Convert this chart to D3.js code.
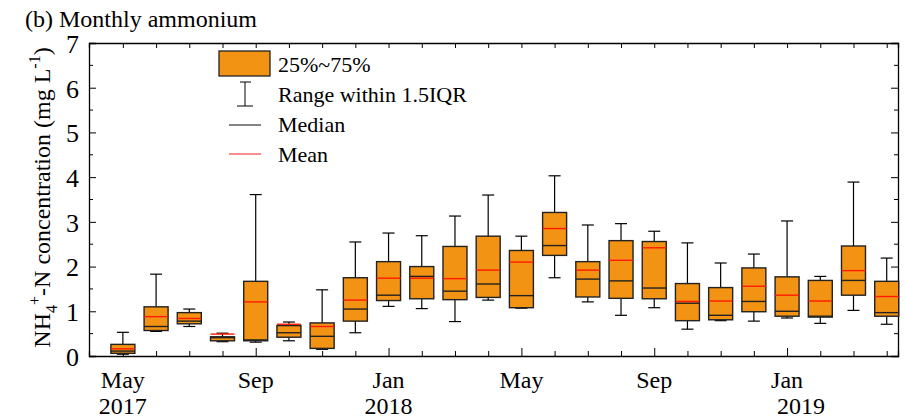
<!DOCTYPE html>
<html><head><meta charset="utf-8">
<script src="https://cdn.jsdelivr.net/npm/d3@7"></script>
<style>body{margin:0;background:#fff}text{font-family:"Liberation Serif","Times New Roman",serif;fill:#000}</style>
</head><body><svg id="c" width="905" height="419"></svg>
<script>
// monthly stats May 2017 .. Apr 2019
var months = ['May','Jun','Jul','Aug','Sep','Oct','Nov','Dec','Jan','Feb','Mar','Apr',
              'May','Jun','Jul','Aug','Sep','Oct','Nov','Dec','Jan','Feb','Mar','Apr'];
var whiskLo = [0.04,0.55,0.66,0.32,0.31,0.34,0.15,0.52,1.11,1.06,0.77,1.25,1.07,1.75,1.21,0.91,1.08,0.60,0.79,0.78,0.85,0.73,1.02,0.71];
var q1      = [0.06,0.57,0.72,0.34,0.34,0.42,0.17,0.78,1.24,1.28,1.26,1.31,1.08,2.25,1.32,1.29,1.28,0.79,0.81,0.99,0.89,0.87,1.36,0.89];
var median  = [0.11,0.66,0.78,0.41,0.36,0.52,0.44,1.05,1.36,1.78,1.45,1.61,1.35,2.47,1.72,1.68,1.52,1.18,0.91,1.22,1.00,0.89,1.69,0.97];
var mean    = [0.16,0.88,0.84,0.49,1.21,0.71,0.66,1.25,1.74,1.74,1.73,1.92,2.10,2.85,1.92,2.14,2.42,1.22,1.23,1.56,1.36,1.23,1.91,1.33];
var q3      = [0.26,1.10,0.97,0.43,1.67,0.68,0.74,1.75,2.11,2.00,2.45,2.68,2.36,3.21,2.11,2.58,2.56,1.62,1.53,1.97,1.77,1.69,2.46,1.67];
var whiskHi = [0.53,1.83,1.05,0.51,3.61,0.76,1.48,2.55,2.75,2.69,3.13,3.60,2.68,4.03,2.93,2.96,2.79,2.53,2.08,2.28,3.02,1.78,3.89,2.19];
var tickIdx = [0,4,8,12,16,20];
var years = {0:'2017',8:'2018',20:'2019'};

var svg = d3.select('#c');
var L = 89, R = 898, T = 43, B = 356;
var x = d3.scaleLinear().domain([-1.02, 23.34]).range([L, R]);
var y = d3.scaleLinear().domain([0, 7]).range([B, T]);
var bw = 24, cap = 12, fill = '#f39313';

// axes with inward ticks
var gl = svg.append('g').attr('transform','translate('+L+',0)')
  .call(d3.axisLeft(y).ticks(7).tickSize(-7).tickPadding(10));
var gr = svg.append('g').attr('transform','translate('+R+',0)')
  .call(d3.axisRight(y).ticks(7).tickSize(-7).tickFormat(''));
[0.5,1.5,2.5,3.5,4.5,5.5,6.5].forEach(function(v){
  svg.append('line').attr('x1',L).attr('x2',L+4).attr('y1',y(v)).attr('y2',y(v)).attr('stroke','#000');
  svg.append('line').attr('x1',R).attr('x2',R-4).attr('y1',y(v)).attr('y2',y(v)).attr('stroke','#000');
});
var gb = svg.append('g').attr('transform','translate(0,'+B+')')
  .call(d3.axisBottom(x).tickValues(d3.range(24)).tickSize(-5).tickFormat(''));
gb.selectAll('.tick line').filter(function(d){return tickIdx.indexOf(d)>=0;}).attr('y2',-8);
var gt = svg.append('g').attr('transform','translate(0,'+T+')')
  .call(d3.axisTop(x).tickValues(d3.range(24)).tickSize(-5).tickFormat(''));
[gl,gr,gb,gt].forEach(function(g){
  g.select('.domain').attr('stroke','#000').attr('stroke-width',1.3);
  g.selectAll('.tick line').attr('stroke','#000');
});
gl.selectAll('.tick text').attr('font-size',26).attr('dy','0.36em').style('font-family','"Liberation Serif",serif');

// x labels
tickIdx.forEach(function(i){
  svg.append('text').attr('x',x(i)).attr('y',388).attr('text-anchor','middle').attr('font-size',24).text(months[i]);
  if(years[i]) svg.append('text').attr('x',x(i)+(i==20?14:0)).attr('y',414).attr('text-anchor','middle').attr('font-size',24).text(years[i]);
});

// boxes
var g = svg.append('g');
months.forEach(function(m,i){
  var cx = x(i);
  g.append('line').attr('x1',cx).attr('x2',cx).attr('y1',y(whiskHi[i])).attr('y2',y(q3[i])).attr('stroke','#000').attr('stroke-width',1.2);
  g.append('line').attr('x1',cx).attr('x2',cx).attr('y1',y(whiskLo[i])).attr('y2',y(q1[i])).attr('stroke','#000').attr('stroke-width',1.2);
  g.append('line').attr('x1',cx-cap/2).attr('x2',cx+cap/2).attr('y1',y(whiskHi[i])).attr('y2',y(whiskHi[i])).attr('stroke','#000').attr('stroke-width',1.2);
  g.append('line').attr('x1',cx-cap/2).attr('x2',cx+cap/2).attr('y1',y(whiskLo[i])).attr('y2',y(whiskLo[i])).attr('stroke','#000').attr('stroke-width',1.2);
  g.append('rect').attr('x',cx-bw/2).attr('width',bw).attr('y',y(q3[i])).attr('height',y(q1[i])-y(q3[i]))
    .attr('fill',fill).attr('stroke','#222').attr('stroke-width',1.4);
  g.append('line').attr('x1',cx-bw/2).attr('x2',cx+bw/2).attr('y1',y(median[i])).attr('y2',y(median[i])).attr('stroke','#222').attr('stroke-width',1.4);
  g.append('line').attr('x1',cx-bw/2).attr('x2',cx+bw/2).attr('y1',y(mean[i])).attr('y2',y(mean[i])).attr('stroke','#ff1a00').attr('stroke-width',1.4);
});

// legend
var lg = svg.append('g');
lg.append('rect').attr('x',219).attr('y',51).attr('width',51).attr('height',25).attr('fill',fill).attr('stroke','#222').attr('stroke-width',1.3);
lg.append('line').attr('x1',245).attr('x2',245).attr('y1',82).attr('y2',106).attr('stroke','#000');
lg.append('line').attr('x1',240).attr('x2',251).attr('y1',82).attr('y2',82).attr('stroke','#000');
lg.append('line').attr('x1',237).attr('x2',253).attr('y1',106).attr('y2',106).attr('stroke','#000');
lg.append('line').attr('x1',229).attr('x2',261).attr('y1',125).attr('y2',125).attr('stroke','#333').attr('stroke-width',1.2);
lg.append('line').attr('x1',229).attr('x2',261).attr('y1',154).attr('y2',154).attr('stroke','#ff4040').attr('stroke-width',1.2);
[['25%~75%',72],['Range within 1.5IQR',102],['Median',132],['Mean',162]].forEach(function(d){
  lg.append('text').attr('x',278).attr('y',d[1]).attr('font-size',22).text(d[0]);
});

// title and y label
svg.append('text').attr('x',25).attr('y',27).attr('font-size',24).text('(b) Monthly ammonium');
var yt = svg.append('text').attr('transform','translate(50,'+((T+B)/2-2)+') rotate(-90)')
  .attr('text-anchor','middle').attr('font-size',24);
yt.append('tspan').text('NH');
yt.append('tspan').attr('font-size',16).attr('dy',7).text('4');
yt.append('tspan').attr('font-size',16).attr('dy',-17).text('+');
yt.append('tspan').attr('dy',10).text('-N concentration (mg L');
yt.append('tspan').attr('font-size',16).attr('dy',-10).text('-1');
yt.append('tspan').attr('dy',10).text(')');
</script></body></html>
